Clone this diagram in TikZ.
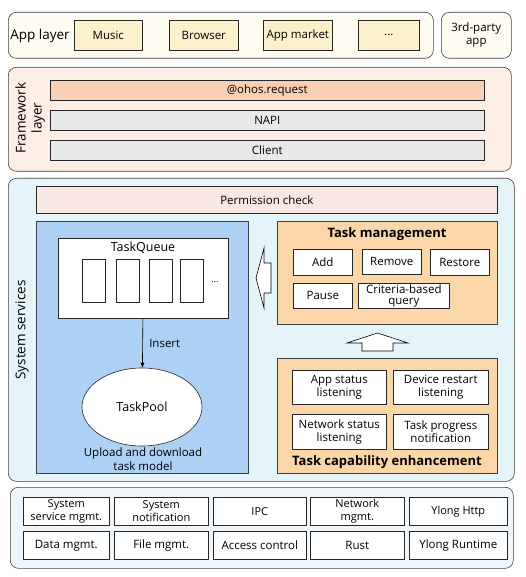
\documentclass[tikz,border=0pt]{standalone}
\usepackage{fontspec}
\setmainfont{Open Sans}
\usetikzlibrary{arrows.meta,shapes.geometric}

\definecolor{appfill}{HTML}{FEFBF1}
\definecolor{appcell}{HTML}{FDF0CC}
\definecolor{fwfill}{HTML}{FDEEE5}
\definecolor{reqfill}{HTML}{F9D0B3}
\definecolor{barfill}{HTML}{E9E9E9}
\definecolor{sysfill}{HTML}{E5F4F8}
\definecolor{permfill}{HTML}{F9E7E4}
\definecolor{modelfill}{HTML}{ADD1F4}
\definecolor{mgmtfill}{HTML}{FBD6A8}
\definecolor{basefill}{HTML}{EEF6FC}

\begin{document}
\begin{tikzpicture}[x=1pt,y=-1pt,
  layer/.style={draw=black!75,rounded corners=8pt,line width=0.6pt,anchor=north west,inner sep=0pt},
  panel/.style={draw=black!75,line width=0.6pt,anchor=north west,inner sep=0pt},
  cell/.style={draw=black!85,fill=white,line width=0.6pt,anchor=north west,inner sep=0pt,
    align=center,font=\fontsize{11.5}{13}\selectfont},
  title/.style={font=\fontsize{13.5}{16}\selectfont,align=center},
  bold/.style={font=\fontsize{13}{15}\selectfont\bfseries}]
\useasboundingbox (0,0) rectangle (526,577);

% The app layer
\node[layer,fill=appfill,minimum width=425pt,minimum height=46pt] (applayer) at (8,12) {};
\node[title] (applabel) at (40,36) {App layer};
\node[cell,fill=appcell,minimum width=68pt,minimum height=30pt] (music) at (74,20) {Music};
\node[cell,fill=appcell,minimum width=69pt,minimum height=30pt] (browser) at (169,20) {Browser};
\node[cell,fill=appcell,minimum width=69pt,minimum height=30pt] (market) at (263,20) {App market};
\node[cell,fill=appcell,minimum width=61pt,minimum height=30pt] (moreapp) at (358,20) {...};
\node[layer,fill=appfill,minimum width=70pt,minimum height=46pt,align=center,
  font=\fontsize{11.5}{13}\selectfont] (thirdparty) at (441,12) {3rd-party\\app};

% The framework layer
\node[layer,fill=fwfill,minimum width=503pt,minimum height=104pt] (framework) at (8,67) {};
\node[title,rotate=90,font=\fontsize{13.5}{16}\selectfont] (fwlabel) at (30,118) {Framework\\layer};
\node[cell,fill=reqfill,minimum width=434pt,minimum height=20pt] (request) at (50,80) {@ohos.request};
\node[cell,fill=barfill,minimum width=434pt,minimum height=20pt] (napi) at (50,110) {NAPI};
\node[cell,fill=barfill,minimum width=434pt,minimum height=20pt] (client) at (50,140) {Client};

% The system services
\node[layer,fill=sysfill,minimum width=506pt,minimum height=303pt] (system) at (8,178) {};
\node[title,rotate=90] (syslabel) at (22,330) {System services};
\node[cell,fill=permfill,minimum width=461pt,minimum height=27pt] (permission) at (36,186) {Permission check};

% The task model
\node[panel,fill=modelfill,minimum width=212pt,minimum height=252pt] (model) at (36,221) {};
\node[cell,minimum width=170pt,minimum height=80pt] (queue) at (58,238) {};
\node[font=\fontsize{12.5}{14}\selectfont] (queuelabel) at (143,248) {TaskQueue};
\foreach \x [count=\i] in {82,116,149,180}
  \node[cell,minimum width=23pt,minimum height=43pt] (slot\i) at (\x,259) {};
\node[font=\fontsize{9}{10}\selectfont] (moreslot) at (215,282) {...};
\node[ellipse,draw=black!85,fill=white,line width=0.6pt,minimum width=120pt,minimum height=78pt,
  font=\fontsize{12.5}{14}\selectfont] (pool) at (142,407) {TaskPool};
\draw[line width=0.6pt,-{Latex[length=5pt,width=4pt]}] (queue) -- (pool)
  node[midway,right=3pt,font=\fontsize{11.5}{13}\selectfont] (insert) {Insert};
\node[align=center,font=\fontsize{11.5}{14}\selectfont] (modellabel) at (143,459) {Upload and download\\task model};

% The hollow arrows
\draw[line width=0.6pt,fill=white] (256,278) -- (264,248) -- (264,263) -- (271,263)
  -- (271,293) -- (264,293) -- (264,308) -- cycle;
\draw[line width=0.6pt,fill=white] (377.5,333) -- (408,343) -- (393,343) -- (393,351)
  -- (362,351) -- (362,343) -- (347,343) -- cycle;

% The task management
\node[panel,fill=mgmtfill,minimum width=220pt,minimum height=103pt] (mgmt) at (277,221) {};
\node[bold] (mgmtlabel) at (387,234) {Task management};
\node[cell,minimum width=59pt,minimum height=26pt] (add) at (293,249) {Add};
\node[cell,minimum width=59pt,minimum height=25pt] (remove) at (362,249) {Remove};
\node[cell,minimum width=59pt,minimum height=26pt] (restore) at (430,249) {Restore};
\node[cell,minimum width=59pt,minimum height=25pt] (pause) at (293,283) {Pause};
\node[cell,minimum width=91pt,minimum height=25pt,font=\fontsize{11.5}{11}\selectfont] (query) at (358,283) {Criteria-based\\query};

% The task capability enhancement
\node[panel,fill=mgmtfill,minimum width=220pt,minimum height=115pt] (capability) at (277,358) {};
\node[cell,minimum width=94pt,minimum height=34pt] (appstatus) at (292,370) {App status\\listening};
\node[cell,minimum width=95pt,minimum height=34pt] (restart) at (393,370) {Device restart\\listening};
\node[cell,minimum width=94pt,minimum height=35pt] (netstatus) at (292,414) {Network status\\listening};
\node[cell,minimum width=95pt,minimum height=35pt] (progress) at (393,414) {Task progress\\notification};
\node[bold] (caplabel) at (387,462) {Task capability enhancement};

% The base layer
\node[layer,fill=basefill,minimum width=503pt,minimum height=81pt] (base) at (10,487) {};
\foreach \x/\w/\up/\down [count=\i] in {23/86/{System\\service mgmt.}/{Data mgmt.},
    114/94/{System\\notification}/{File mgmt.}, 213/93/{IPC}/{Access control},
    310/94/{Network\\mgmt.}/{Rust}, 409/98/{Ylong Http}/{Ylong Runtime}}
{
  \node[cell,minimum width=\w pt,minimum height=28pt,font=\fontsize{11}{12.5}\selectfont] (up\i) at (\x,497) {\up};
  \node[cell,minimum width=\w pt,minimum height=28pt] (down\i) at (\x,531) {\down};
}
\end{tikzpicture}
\end{document}
